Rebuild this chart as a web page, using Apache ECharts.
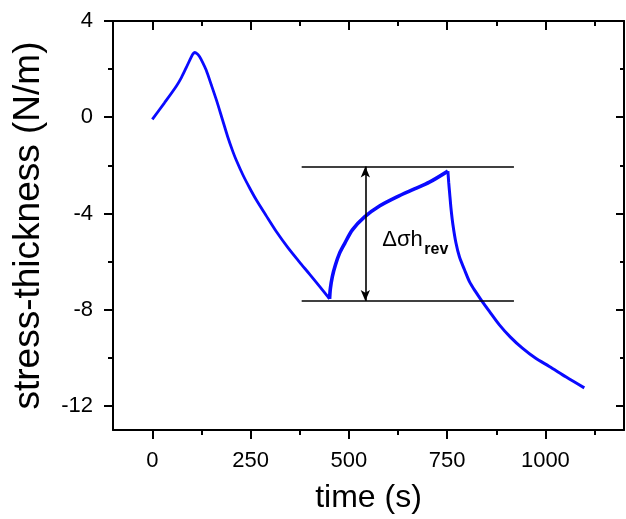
<!DOCTYPE html>
<html>
<head>
<meta charset="utf-8">
<script src="https://cdn.jsdelivr.net/npm/echarts@6/dist/echarts.min.js"></script>
<style>
html,body{margin:0;padding:0;background:#fff;}
#chart{width:626px;height:519px;}
</style>
</head>
<body>
<div id="chart"></div>
<script>
// ---- data ----
// phase 1: deposition (growth, peak, compressive decline)
const t1 = [0, 31, 61, 74, 86, 99, 104, 108, 114, 120, 128, 137, 150, 163, 177, 192, 205, 214, 230, 247, 264, 290, 315, 345, 374, 400, 425, 451];
const v1 = [-0.09, 0.6, 1.29, 1.65, 2.05, 2.5, 2.64, 2.69, 2.64, 2.52, 2.28, 1.96, 1.35, 0.72, -0.02, -0.82, -1.43, -1.8, -2.38, -2.92, -3.42, -4.1, -4.74, -5.42, -6.01, -6.52, -7.02, -7.55];
// phase 2: interruption (reversible rise)
const t2 = [451, 453, 458, 466, 476, 489, 509, 540, 578, 621, 667, 705, 752];
const v2 = [-7.55, -7.12, -6.62, -6.13, -5.67, -5.26, -4.68, -4.14, -3.69, -3.32, -2.98, -2.7, -2.24];
// phase 3: resumed deposition
const t3 = [752, 754, 756.4, 760, 764.8, 772.4, 781.3, 794, 806.8, 822, 837.3, 857.6, 883, 911, 941.5, 974.5, 1010, 1053, 1099];
const v3 = [-2.24, -2.7, -3.15, -3.81, -4.47, -5.22, -5.8, -6.33, -6.83, -7.24, -7.61, -8.07, -8.63, -9.14, -9.6, -10.01, -10.36, -10.8, -11.25];

// axes
const xMajorTicks = [0, 250, 500, 750, 1000];
const xMinorTicks = [125, 375, 625, 875, 1125];
const yMajorTicks = [-12, -8, -4, 0, 4];
const yMinorTicks = [-10, -6, -2, 2];
const xRange = [-100, 1200];
const yRange = [-13, 4];

// annotation (data space)
const refLevels = [-2.05, -7.64];     // upper and lower reference lines
const refSpan = [380, 920];           // time extent of reference lines
const arrowTime = 542;                // double arrow position
const labelMain = 'Δσh';
const labelSub = 'rev';
const labelMainPos = [585, -5.1];
const labelSubPos = [692, -5.5];

const FONT = 'Liberation Sans, Arial, sans-serif';
const pair = (ts, vs) => ts.map((t, i) => [t, vs[i]]);
const plain = v => String(v);

function xAxisDef(pos, ticks, len, inside, withLine, withLabels) {
  return {
    type: 'value', position: pos, min: xRange[0], max: xRange[1],
    axisLine: { show: withLine, onZero: false, lineStyle: { color: '#000', width: 2 } },
    axisTick: { show: true, inside: inside, length: len, customValues: ticks, lineStyle: { color: '#000', width: 2 } },
    axisLabel: withLabels ? { show: true, customValues: ticks, formatter: plain, margin: 20, color: '#000', fontSize: 22, fontFamily: FONT } : { show: false },
    splitLine: { show: false }
  };
}
function yAxisDef(pos, ticks, len, inside, withLine, withLabels) {
  return {
    type: 'value', position: pos, min: yRange[0], max: yRange[1],
    axisLine: { show: withLine, onZero: false, lineStyle: { color: '#000', width: 2 } },
    axisTick: { show: true, inside: inside, length: len, customValues: ticks, lineStyle: { color: '#000', width: 2 } },
    axisLabel: withLabels ? { show: true, customValues: ticks, formatter: plain, margin: 20, color: '#000', fontSize: 22, fontFamily: FONT } : { show: false },
    splitLine: { show: false }
  };
}

const xAxes = [
  xAxisDef('bottom', xMajorTicks, 9, false, true, true),
  xAxisDef('bottom', xMinorTicks, 5, false, false, false),
  xAxisDef('top', xMajorTicks, 9, true, true, false),
  xAxisDef('top', xMinorTicks, 5, true, false, false)
];
Object.assign(xAxes[0], {
  name: 'time (s)', nameLocation: 'middle', nameGap: 52,
  nameTextStyle: { color: '#000', fontSize: 32, fontFamily: FONT }
});
const yAxes = [
  yAxisDef('left', yMajorTicks, 9, false, true, true),
  yAxisDef('left', yMinorTicks, 5, false, false, false),
  yAxisDef('right', yMajorTicks, 8, true, true, false),
  yAxisDef('right', yMinorTicks, 4, true, false, false)
];
Object.assign(yAxes[0], {
  name: 'stress-thickness (N/m)', nameLocation: 'middle', nameGap: 66, nameRotate: 90,
  nameTextStyle: { color: '#000', fontSize: 37, fontFamily: FONT }
});

const BLUE = '#0a0aff';
const option = {
  animation: false,
  backgroundColor: '#fff',
  grid: { left: 113, right: 2, top: 21, bottom: 85, containLabel: false },
  xAxis: xAxes,
  yAxis: yAxes,
  series: [
    {
      type: 'line', data: pair(t1, v1), smooth: 0.3, showSymbol: false,
      lineStyle: { color: BLUE, width: 2.8 }, z: 3,
      markLine: {
        silent: true, symbol: ['none', 'none'], animation: false,
        label: { show: false },
        lineStyle: { color: '#000', width: 1.6, type: 'solid' },
        data: refLevels.map(v => [{ coord: [refSpan[0], v] }, { coord: [refSpan[1], v] }])
      }
    },
    {
      type: 'line', data: pair(t2, v2), smooth: 0.3, showSymbol: false,
      lineStyle: { color: BLUE, width: 3.6 }, z: 3,
      markLine: {
        silent: true, symbol: ['arrow', 'arrow'], symbolSize: [7, 11], animation: false,
        label: { show: false },
        lineStyle: { color: '#000', width: 1.6, type: 'solid' },
        data: [[{ coord: [arrowTime, refLevels[0]] }, { coord: [arrowTime, refLevels[1]] }]]
      },
      markPoint: {
        silent: true, symbol: 'circle', symbolSize: 0, animation: false,
        data: [
          { coord: labelMainPos, label: { show: true, position: 'right', distance: 0, formatter: labelMain, color: '#000', fontSize: 22, fontFamily: FONT } },
          { coord: labelSubPos, label: { show: true, position: 'right', distance: 0, formatter: labelSub, color: '#000', fontSize: 16, fontWeight: 'bold', fontFamily: FONT } }
        ]
      }
    },
    {
      type: 'line', data: pair(t3, v3), smooth: 0.3, showSymbol: false,
      lineStyle: { color: BLUE, width: 3 }, z: 3
    }
  ]
};
const chart = echarts.init(document.getElementById('chart'), null, { renderer: 'canvas' });
chart.setOption(option);
</script>
</body>
</html>
